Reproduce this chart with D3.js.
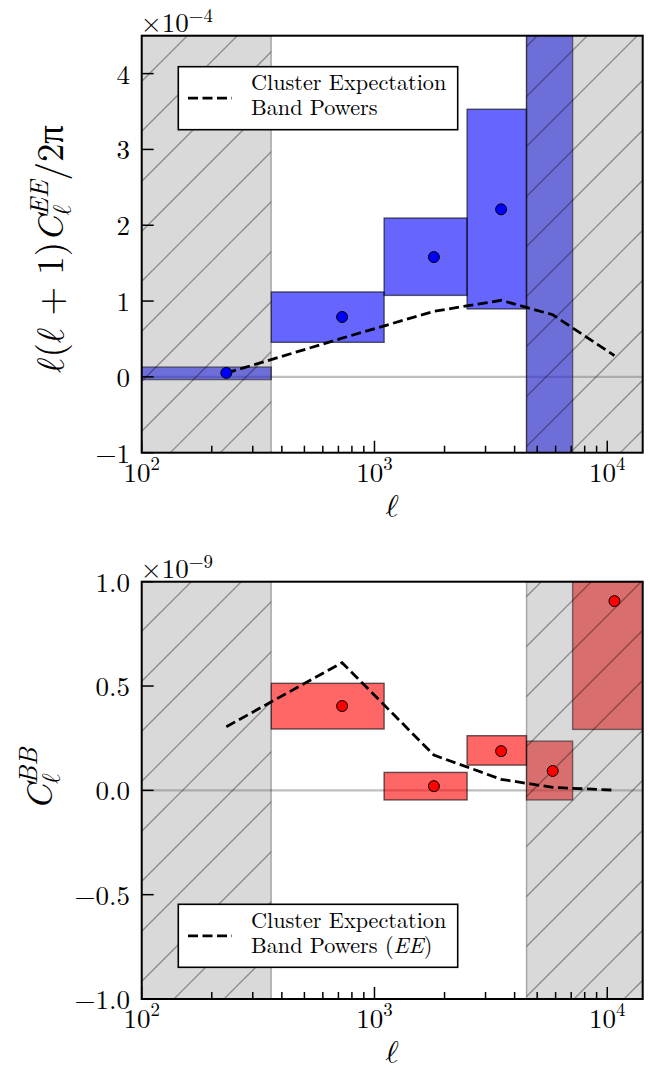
<!DOCTYPE html>
<html><head><meta charset="utf-8">
<script src="https://cdn.jsdelivr.net/npm/d3@7"></script>
<style>
body{margin:0;background:#fff}
svg{display:block}
</style>
</head><body>
<svg id="c" width="650" height="1072" font-family="'Latin Modern Roman', 'CMU Serif', 'Liberation Serif', serif"></svg>
<script>
// ---------------- data ----------------
const binEdges   = [70, 360, 1100, 2500, 4500, 7100, 20000];
const binCenters = [231, 726, 1800, 3500, 5830, 10740];
// EE band powers (x 1e-4)
const eeLower  = [-0.036, 0.456, 1.075, 0.896, -3.0, null];
const eeUpper  = [0.13, 1.12, 2.095, 3.53, 8.0, null];
const eeBand   = [0.053, 0.79, 1.58, 2.21, null, null];
const eeExpect = [0.05, 0.51, 0.865, 1.01, 0.82, 0.28];
// BB band powers (x 1e-9)
const bbLower  = [null, 0.294, -0.046, 0.121, -0.046, 0.292];
const bbUpper  = [null, 0.513, 0.086, 0.262, 0.236, 1.5];
const bbBand   = [null, 0.404, 0.02, 0.188, 0.093, 0.907];
const bbExpect = [0.305, 0.612, 0.169, 0.053, 0.014, 0.001];
// masked multipole ranges
const maskedRanges = [[100, 360], [4500, 14200]];
const xDomain = [100, 14200];
const eeDomain = [-1, 4.5];
const bbDomain = [-1, 1];
const eeTicks = [-1, 0, 1, 2, 3, 4];
const eeTickLabels = ["\u22121", "0", "1", "2", "3", "4"];
const bbTicks = [-1, -0.5, 0, 0.5, 1];
const bbTickLabels = ["\u22121.0", "\u22120.5", "0.0", "0.5", "1.0"];
const xMajorTicks = [100, 1000, 10000];
const xMajorExp = ["2", "3", "4"];
const eeExponent = "\u22124";
const bbExponent = "\u22129";
const legendLine1 = "Cluster Expectation";

// ---------------- drawing ----------------
const svg = d3.select("#c");
const TICK_FS = 27, LEG_FS = 22.2, XLAB_FS = 32;
const ELL_FONT = "'Latin Modern Math', 'Latin Modern Roman', 'DejaVu Serif', serif";

function panel(cfg, idx) {
  const L = 141.7, R = 642.7, T = cfg.top, B = cfg.bottom;
  const x = d3.scaleLog().domain(xDomain).range([L, R]);
  const y = d3.scaleLinear().domain(cfg.domain).range([B, T]);
  const g = svg.append("g");
  const defs = svg.append("defs");
  const clipId = "clip" + idx;
  defs.append("clipPath").attr("id", clipId)
    .append("rect").attr("x", L).attr("y", T).attr("width", R - L).attr("height", B - T);
  const plot = g.append("g").attr("clip-path", `url(#${clipId})`);

  // zero line
  plot.append("line").attr("x1", L).attr("x2", R).attr("y1", y(0)).attr("y2", y(0))
    .attr("stroke", "gray").attr("stroke-opacity", 0.5).attr("stroke-width", 2.2);

  // bars
  const bars = d3.range(binCenters.length).filter(i => cfg.lower[i] !== null);
  plot.selectAll("rect.bar").data(bars).join("rect").attr("class", "bar")
    .attr("x", i => x(binEdges[i]))
    .attr("width", i => x(binEdges[i + 1]) - x(binEdges[i]))
    .attr("y", i => y(cfg.upper[i]))
    .attr("height", i => y(cfg.lower[i]) - y(cfg.upper[i]))
    .attr("fill", cfg.color).attr("fill-opacity", 0.6)
    .attr("stroke", "#000").attr("stroke-opacity", 0.6).attr("stroke-width", 1.4);

  // masked regions with hatch
  maskedRanges.forEach((r, k) => {
    const x0 = x(r[0]), x1 = Math.min(x(r[1]), R);
    const hid = `hclip${idx}_${k}`;
    defs.append("clipPath").attr("id", hid)
      .append("rect").attr("x", x0).attr("y", T).attr("width", x1 - x0).attr("height", B - T);
    plot.append("rect").attr("x", x0).attr("y", T).attr("width", x1 - x0).attr("height", B - T)
      .attr("fill", "gray").attr("fill-opacity", 0.3);
    const hg = plot.append("g").attr("clip-path", `url(#${hid})`);
    const sp = 50, ph = 23;
    const c0 = Math.floor((x0 + T - ph) / sp) * sp + ph;
    for (let c = c0; c <= x1 + B + sp; c += sp) {
      hg.append("line").attr("x1", c - B).attr("y1", B).attr("x2", c - T).attr("y2", T)
        .attr("stroke", "#000").attr("stroke-opacity", 0.35).attr("stroke-width", 1.3);
    }
    plot.append("rect").attr("x", x0).attr("y", T).attr("width", x1 - x0).attr("height", B - T)
      .attr("fill", "none").attr("stroke", "#000").attr("stroke-opacity", 0.3).attr("stroke-width", 1.4);
  });

  // expectation dashed line
  const line = d3.line().x((d, i) => x(binCenters[i])).y(d => y(d));
  plot.append("path").attr("d", line(cfg.expect)).attr("fill", "none")
    .attr("stroke", "#000").attr("stroke-width", 2.8).attr("stroke-dasharray", "10,4.5");

  // band power points
  const pts = d3.range(binCenters.length).filter(i => cfg.band[i] !== null);
  plot.selectAll("circle").data(pts).join("circle")
    .attr("cx", i => x(binCenters[i])).attr("cy", i => y(cfg.band[i])).attr("r", 5.5)
    .attr("fill", cfg.dot).attr("stroke", "#000").attr("stroke-width", 1);

  // spines
  g.append("rect").attr("x", L).attr("y", T).attr("width", R - L).attr("height", B - T)
    .attr("fill", "none").attr("stroke", "#000").attr("stroke-width", 2);

  // x ticks (inward)
  const minor = [];
  [100, 1000, 10000].forEach(d => { for (let m = 2; m <= 9; m++) { const v = d * m; if (v < xDomain[1]) minor.push(v); } });
  g.selectAll("line.xmin").data(minor).join("line").attr("class", "xmin")
    .attr("x1", d => x(d)).attr("x2", d => x(d)).attr("y1", B).attr("y2", B - 7)
    .attr("stroke", "#000").attr("stroke-width", 1.5);
  g.selectAll("line.xmaj").data(xMajorTicks).join("line").attr("class", "xmaj")
    .attr("x1", d => x(d)).attr("x2", d => x(d)).attr("y1", B).attr("y2", B - 12)
    .attr("stroke", "#000").attr("stroke-width", 1.5);
  xMajorTicks.forEach((d, i) => {
    const t = g.append("text").attr("x", x(d)).attr("y", B + 29).attr("text-anchor", "middle")
      .attr("font-size", TICK_FS);
    t.append("tspan").text("10");
    t.append("tspan").attr("dy", -12).attr("font-size", TICK_FS * 0.7).text(xMajorExp[i]);
  });

  // y ticks
  g.selectAll("line.ytk").data(cfg.ticks).join("line").attr("class", "ytk")
    .attr("x1", L).attr("x2", L + 12).attr("y1", d => y(d)).attr("y2", d => y(d))
    .attr("stroke", "#000").attr("stroke-width", 1.5);
  cfg.ticks.forEach((d, i) => {
    g.append("text").attr("x", 130).attr("y", y(d) + 10).attr("text-anchor", "end")
      .attr("font-size", TICK_FS).text(cfg.tickLabels[i]);
  });

  // offset text
  const ot = g.append("text").attr("x", L - 1).attr("y", T - 4).attr("font-size", TICK_FS);
  ot.append("tspan").text("\u00d710");
  ot.append("tspan").attr("dy", -10).attr("font-size", TICK_FS * 0.7).text(cfg.exponent);

  // x label
  g.append("text").attr("x", (L + R) / 2).attr("y", B + 64).attr("text-anchor", "middle")
    .attr("font-size", XLAB_FS).attr("font-family", ELL_FONT).text("\u2113");

  // legend
  const ly = cfg.legendTop;
  g.append("rect").attr("x", 178.3).attr("y", ly).attr("width", 279.4).attr("height", 63)
    .attr("fill", "#fff").attr("stroke", "#000").attr("stroke-width", 1.6);
  g.append("line").attr("x1", 188).attr("x2", 232).attr("y1", ly + 31.5).attr("y2", ly + 31.5)
    .attr("stroke", "#000").attr("stroke-width", 2.8).attr("stroke-dasharray", "10,4.5");
  g.append("text").attr("x", 251).attr("y", ly + 23.5).attr("font-size", LEG_FS).text(legendLine1);
  const l2 = g.append("text").attr("x", 251).attr("y", ly + 48.5).attr("font-size", LEG_FS);
  cfg.legend2(l2);

  return g;
}

panel({
  top: 35.7, bottom: 452.7, domain: eeDomain, ticks: eeTicks, tickLabels: eeTickLabels,
  lower: eeLower, upper: eeUpper, band: eeBand, expect: eeExpect,
  color: "blue", dot: "blue", exponent: eeExponent, legendTop: 66.7,
  legend2: t => t.append("tspan").text("Band Powers")
}, 0);
panel({
  top: 581.7, bottom: 999, domain: bbDomain, ticks: bbTicks, tickLabels: bbTickLabels,
  lower: bbLower, upper: bbUpper, band: bbBand, expect: bbExpect,
  color: "red", dot: "red", exponent: bbExponent, legendTop: 904.3,
  legend2: t => { t.append("tspan").text("Band Powers ("); t.append("tspan").attr("font-style", "italic").text("EE"); t.append("tspan").text(")"); }
}, 1);

// y labels (rotated), with stacked sub/superscripts
function mathLabel(t, F, sup, prefix, suffix) {
  if (prefix) {
    prefix.forEach(p => {
      const s = t.append("tspan").text(p);
      if (p === "\u2113") s.attr("font-family", ELL_FONT);
    });
  }
  t.append("tspan").attr("font-style", "italic").text("C");
  const sub = t.append("tspan").attr("font-size", F * 0.7).attr("dy", F * 0.22)
    .attr("font-family", ELL_FONT).text("\u2113");
  const ws = sub.node().getComputedTextLength();
  t.append("tspan").attr("font-size", F * 0.7).attr("font-style", "italic")
    .attr("dx", -ws).attr("dy", -F * 0.62).text(sup);
  if (suffix) t.append("tspan").attr("dy", F * 0.40).text(suffix);
}
function ylabel(cx, cy, F, sup, prefix, suffix) {
  const t = svg.append("text").attr("transform", `translate(${cx},${cy}) rotate(-90)`)
    .attr("text-anchor", "middle").attr("font-size", F);
  mathLabel(t, F, sup, prefix, suffix);
  return t;
}
// fit the top label to its span in the reference
const topPrefix = ["\u2113", "(", "\u2113", " + 1)"];
let F0 = 30;
let probe = ylabel(63, 249, F0, "EE", topPrefix, "/2\u03c0");
const len = probe.node().getBBox().width;
probe.remove();
const FY = Math.max(26, Math.min(38, F0 * 248 / len));
ylabel(63, 249, FY, "EE", topPrefix, "/2\u03c0");
ylabel(52, 779, FY, "BB", null, null);
</script>
</body></html>
